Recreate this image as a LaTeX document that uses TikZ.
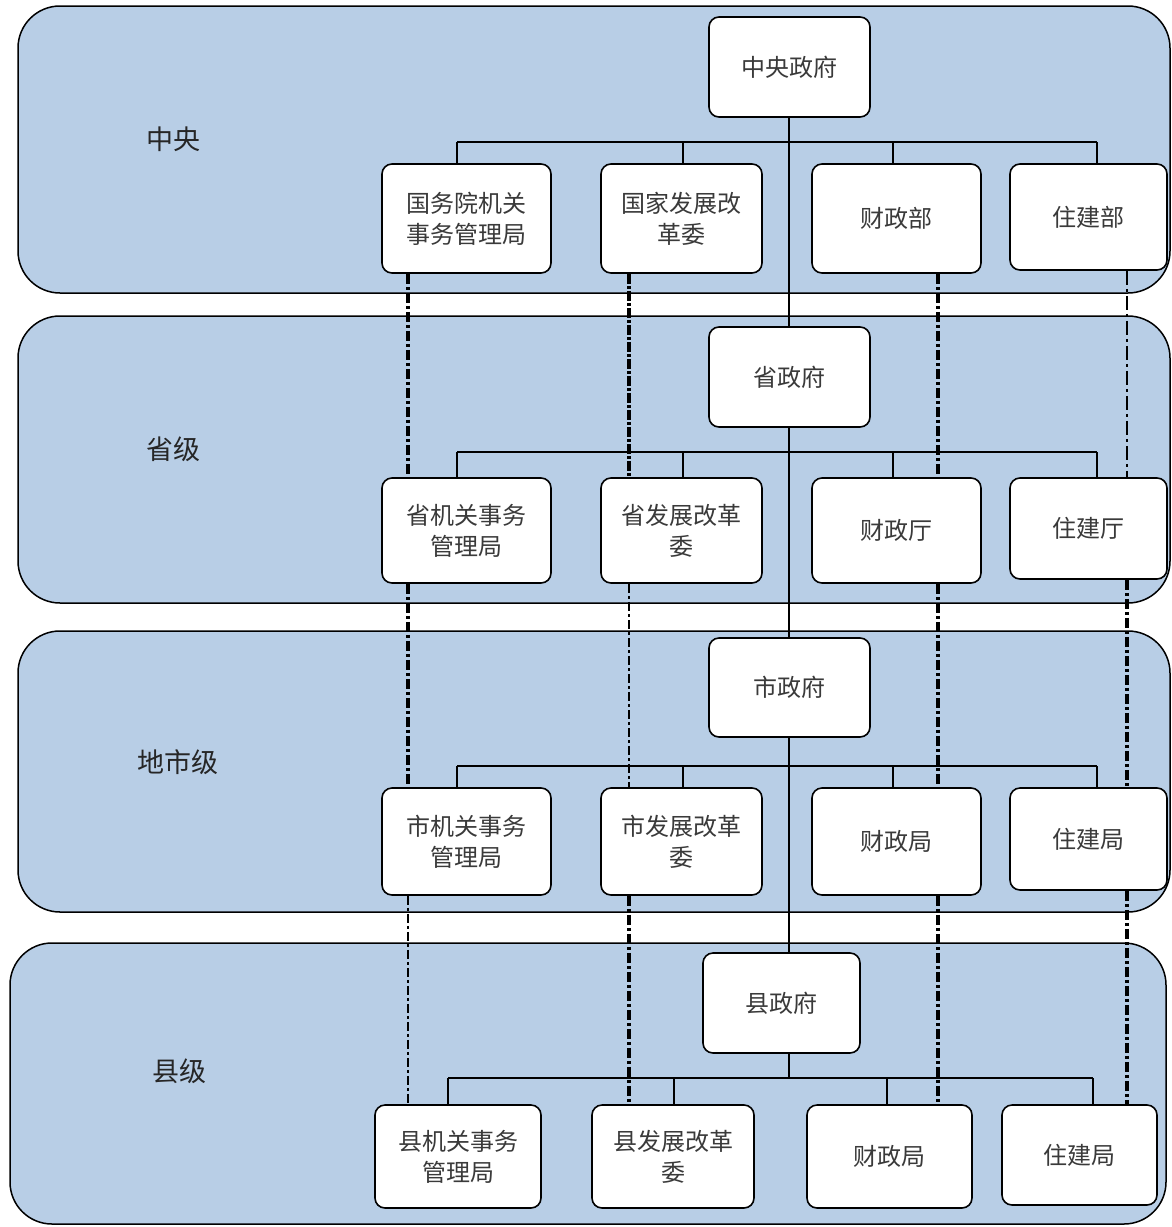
\documentclass[tikz,border=0pt]{standalone}
\usepackage{fontspec}
\newfontfamily\cjk{Noto Sans CJK SC}
\definecolor{bandblue}{HTML}{B8CEE6}
\definecolor{txtgray}{HTML}{3A3A3A}
\begin{document}
\begin{tikzpicture}[x=1pt,y=-1pt,
  band/.style={draw=black,line width=1.5pt,fill=bandblue,rounded corners=42pt},
  box/.style={draw=black,line width=1.6pt,fill=white,rounded corners=10pt,inner sep=0pt,
    align=center,font=\cjk\fontsize{24}{31}\selectfont,text=txtgray},
  lvl/.style={font=\cjk\fontsize{27}{30}\selectfont,text=black!85},
  tree/.style={line width=1.5pt,draw=black},
  linkA/.style={line width=3.4pt,dash pattern=on 10pt off 3pt on 3pt off 3pt},
  linkB/.style={line width=1.9pt,dash pattern=on 9pt off 3pt on 3pt off 3pt},
  linkC/.style={line width=4.4pt,dash pattern=on 10pt off 2pt on 3pt off 2pt},
  linkD/.style={line width=1.8pt,dash pattern=on 14pt off 4pt on 3pt off 4pt}]
\useasboundingbox (0,0) rectangle (1171,1227);
\fill[white] (0,0) rectangle (1171,1227);
% bands
\draw[band] (18,6) rectangle (1170,293);
\draw[band] (18,316) rectangle (1170,603);
\draw[band] (18,631) rectangle (1170,912);
\draw[band] (10,943) rectangle (1166,1224);
% level labels
\node[lvl] (l1) at (173,139) {中央};
\node[lvl] (l2) at (173,449) {省级};
\node[lvl] (l3) at (178,762) {地市级};
\node[lvl] (l4) at (179,1071) {县级};
% coordinates for columns
\coordinate (vc) at (789,0);
\coordinate (xa) at (408,0);
\coordinate (xb) at (629,0);
\coordinate (xc) at (938,0);
\coordinate (xd) at (1127,0);
% bus coordinates
\coordinate (t11) at (457,142); \coordinate (t12) at (683,142); \coordinate (t13) at (893,142); \coordinate (t14) at (1097,142);
\coordinate (t21) at (457,452); \coordinate (t22) at (683,452); \coordinate (t23) at (893,452); \coordinate (t24) at (1097,452);
\coordinate (t31) at (457,766); \coordinate (t32) at (683,766); \coordinate (t33) at (893,766); \coordinate (t34) at (1097,766);
\coordinate (t41) at (448,1078); \coordinate (t42) at (674,1078); \coordinate (t43) at (887,1078); \coordinate (t44) at (1093,1078);
% boxes
\node[box,minimum width=161pt,minimum height=100pt] (g1) at (789.5,67) {中央政府};
\node[box,minimum width=169pt,minimum height=109pt] (c11) at (466.5,218.5) {国务院机关\\事务管理局};
\node[box,minimum width=161pt,minimum height=109pt] (c12) at (681.5,218.5) {国家发展改\\革委};
\node[box,minimum width=169pt,minimum height=109pt] (c13) at (896.5,218.5) {财政部};
\node[box,minimum width=157pt,minimum height=106pt] (c14) at (1088.5,217) {住建部};
\node[box,minimum width=161pt,minimum height=100pt] (g2) at (789.5,377) {省政府};
\node[box,minimum width=169pt,minimum height=105pt] (c21) at (466.5,530.5) {省机关事务\\管理局};
\node[box,minimum width=161pt,minimum height=105pt] (c22) at (681.5,530.5) {省发展改革\\委};
\node[box,minimum width=169pt,minimum height=105pt] (c23) at (896.5,530.5) {财政厅};
\node[box,minimum width=157pt,minimum height=101pt] (c24) at (1088.5,528.5) {住建厅};
\node[box,minimum width=161pt,minimum height=99pt] (g3) at (789.5,687.5) {市政府};
\node[box,minimum width=169pt,minimum height=107pt] (c31) at (466.5,841.5) {市机关事务\\管理局};
\node[box,minimum width=161pt,minimum height=107pt] (c32) at (681.5,841.5) {市发展改革\\委};
\node[box,minimum width=169pt,minimum height=107pt] (c33) at (896.5,841.5) {财政局};
\node[box,minimum width=157pt,minimum height=102pt] (c34) at (1088.5,839) {住建局};
\node[box,minimum width=157pt,minimum height=100pt] (g4) at (781.5,1003) {县政府};
\node[box,minimum width=166pt,minimum height=103pt] (c41) at (458,1156.5) {县机关事务\\管理局};
\node[box,minimum width=162pt,minimum height=103pt] (c42) at (673,1156.5) {县发展改革\\委};
\node[box,minimum width=165pt,minimum height=103pt] (c43) at (889.5,1156.5) {财政局};
\node[box,minimum width=155pt,minimum height=100pt] (c44) at (1079.5,1155) {住建局};
% trees
\draw[tree] (t11) -- (t14);
\draw[tree] (t21) -- (t24);
\draw[tree] (t31) -- (t34);
\draw[tree] (t41) -- (t44);
\foreach \r in {1,2,3,4}{
  \foreach \c in {1,2,3,4}{
    \draw[tree] (t\r\c) -- (t\r\c |- c\r\c.north);
  }
}
\draw[tree] (g1.south -| vc) -- (g2.north -| vc);
\draw[tree] (g2.south -| vc) -- (g3.north -| vc);
\draw[tree] (g3.south -| vc) -- (g4.north -| vc);
\draw[tree] (g4.south -| vc) -- (t41 -| vc);
% dashed links between counterparts
\draw[linkA] (c11.south -| xa) -- (c21.north -| xa);
\draw[linkA] (c21.south -| xa) -- (c31.north -| xa);
\draw[linkB] (c31.south -| xa) -- (c41.north -| xa);
\draw[linkC] (c12.south -| xb) -- (c22.north -| xb);
\draw[linkB] (c22.south -| xb) -- (c32.north -| xb);
\draw[linkA] (c32.south -| xb) -- (c42.north -| xb);
\draw[linkA] (c13.south -| xc) -- (c23.north -| xc);
\draw[linkA] (c23.south -| xc) -- (c33.north -| xc);
\draw[linkA] (c33.south -| xc) -- (c43.north -| xc);
\draw[linkD] (c14.south -| xd) -- (c24.north -| xd);
\draw[linkA] (c24.south -| xd) -- (c34.north -| xd);
\draw[linkA] (c34.south -| xd) -- (c44.north -| xd);
\end{tikzpicture}
\end{document}
